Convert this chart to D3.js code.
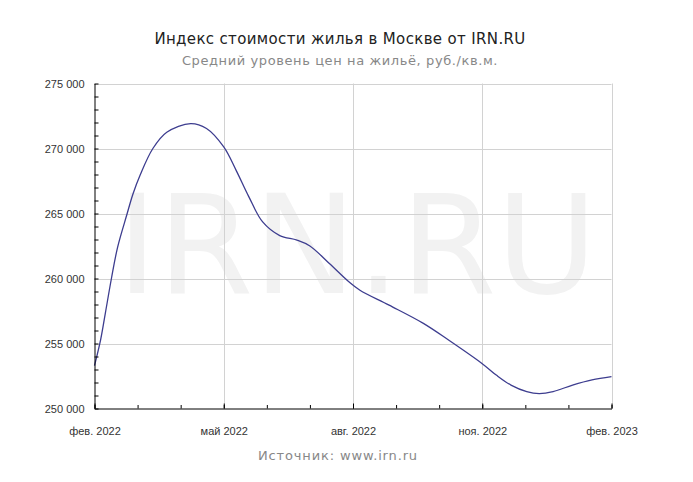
<!DOCTYPE html>
<html>
<head>
<meta charset="utf-8">
<script src="https://cdn.jsdelivr.net/npm/d3@7"></script>
<style>
  html, body { margin: 0; padding: 0; background: #fff; }
  svg { display: block; }
</style>
</head>
<body>
<svg id="chart" width="693" height="482"></svg>
<script>
// ---- data ----
const titleText = "Индекс стоимости жилья в Москве от IRN.RU";
const subtitleText = "Средний уровень цен на жильё, руб./кв.м.";
const sourceText = "Источник: www.irn.ru";
const watermarkText = "IRN.RU";

const dates = [
  "2022-02-01","2022-02-05","2022-02-08","2022-02-12","2022-02-16","2022-02-22",
  "2022-02-26","2022-03-03","2022-03-12","2022-03-22","2022-04-08",
  "2022-04-19","2022-05-01","2022-05-10","2022-05-19","2022-05-29",
  "2022-06-10","2022-06-22","2022-07-01","2022-07-15","2022-07-29","2022-08-06",
  "2022-08-27","2022-09-20","2022-10-08","2022-11-01","2022-11-11","2022-11-21",
  "2022-12-02","2022-12-11","2022-12-21","2023-01-04","2023-01-18","2023-02-01"
];
const prices = [
  253300,255300,257300,260000,262400,264900,
  266500,268000,270000,271250,271920,
  271540,270120,268300,266300,264350,
  263300,262950,262500,261150,259750,259100,
  257950,256550,255250,253450,252550,251800,
  251300,251150,251300,251800,252200,252450
];

const xTickMonths = [0, 3, 6, 9, 12];
const xTickLabels = ["фев. 2022", "май 2022", "авг. 2022", "ноя. 2022", "фев. 2023"];
const yTicks = [250000, 255000, 260000, 265000, 270000, 275000];
const yDomain = [250000, 275000];

// ---- helpers ----
function monthIndex(str) {
  const d = new Date(str + "T00:00:00");
  const dim = new Date(d.getFullYear(), d.getMonth() + 1, 0).getDate();
  return (d.getFullYear() - 2022) * 12 + d.getMonth() - 1 + (d.getDate() - 1) / dim;
}
const data = dates.map((d, i) => ({ m: monthIndex(d), v: prices[i] }));

const svg = d3.select("#chart");
const pL = 94.5, pR = 611.5, pT = 83.5, pB = 408.5;

const x = d3.scaleLinear().domain([0, 12]).range([pL, pR]);
const y = d3.scaleLinear().domain(yDomain).range([pB, pT]);

// watermark
svg.append("text")
  .attr("x", (pL + pR) / 2 + 4)
  .attr("y", 293)
  .attr("text-anchor", "middle")
  .attr("font-family", "Verdana, 'DejaVu Sans', sans-serif")
  .attr("font-size", 138)
  .attr("fill", "#f2f2f2")
  .text(watermarkText);

// gridlines
const grid = svg.append("g").attr("stroke", "#d2d2d2").attr("stroke-width", 1);
grid.selectAll("line.h").data(yTicks.slice(1)).join("line")
  .attr("x1", pL).attr("x2", pR)
  .attr("y1", d => Math.round(y(d)) + 0.5).attr("y2", d => Math.round(y(d)) + 0.5);
grid.selectAll("line.v").data(xTickMonths.slice(1)).join("line")
  .attr("y1", pT).attr("y2", pB)
  .attr("x1", d => Math.round(x(d)) + 0.5).attr("x2", d => Math.round(x(d)) + 0.5);

// line
const line = d3.line().x(d => x(d.m)).y(d => y(d.v)).curve(d3.curveCatmullRom.alpha(0.5));
svg.append("path").datum(data)
  .attr("fill", "none")
  .attr("stroke", "#3d3d8f")
  .attr("stroke-width", 1.3)
  .attr("d", line);

// y axis
const fmt = v => d3.format(",")(v).replace(/,/g, " ");
const yAxis = svg.append("g").attr("transform", `translate(${pL},0)`)
  .call(d3.axisLeft(y).tickValues(yTicks).tickFormat(fmt).tickSizeInner(0).tickSizeOuter(0).tickPadding(10));
const yMinor = svg.append("g").attr("transform", `translate(${pL},0)`)
  .call(d3.axisLeft(y).tickValues(d3.range(yDomain[0], yDomain[1] + 1, 1000)).tickFormat("").tickSizeInner(-4).tickSizeOuter(0));
yMinor.select(".domain").remove();

// x axis
const xAxis = svg.append("g").attr("transform", `translate(0,${pB})`)
  .call(d3.axisBottom(x).tickValues(xTickMonths).tickFormat((d, i) => xTickLabels[i])
    .tickSizeInner(-5).tickSizeOuter(0).tickPadding(19));
const xMinor = svg.append("g").attr("transform", `translate(0,${pB})`)
  .call(d3.axisBottom(x).tickValues(d3.range(0, 13)).tickFormat("").tickSizeInner(-3.5).tickSizeOuter(0));
xMinor.select(".domain").remove();

[yAxis, xAxis, yMinor, xMinor].forEach(g => {
  g.selectAll(".domain").attr("stroke", "#000");
  g.selectAll(".tick line").attr("stroke", "#000");
  g.selectAll("text")
    .attr("font-family", "'Liberation Sans', Arial, sans-serif")
    .attr("font-size", 11)
    .attr("fill", "#333");
});

// titles
svg.append("text")
  .attr("x", 340).attr("y", 44)
  .attr("text-anchor", "middle")
  .attr("font-family", "Verdana, 'DejaVu Sans', sans-serif")
  .attr("font-size", 15)
  .attr("letter-spacing", 0.35)
  .attr("fill", "#222")
  .text(titleText);
svg.append("text")
  .attr("x", 340).attr("y", 65)
  .attr("text-anchor", "middle")
  .attr("font-family", "Verdana, 'DejaVu Sans', sans-serif")
  .attr("font-size", 13)
  .attr("letter-spacing", 0.6)
  .attr("fill", "#888")
  .text(subtitleText);
svg.append("text")
  .attr("x", 338).attr("y", 460)
  .attr("text-anchor", "middle")
  .attr("font-family", "Verdana, 'DejaVu Sans', sans-serif")
  .attr("font-size", 13)
  .attr("letter-spacing", 0.85)
  .attr("fill", "#888")
  .text(sourceText);
</script>
</body>
</html>
